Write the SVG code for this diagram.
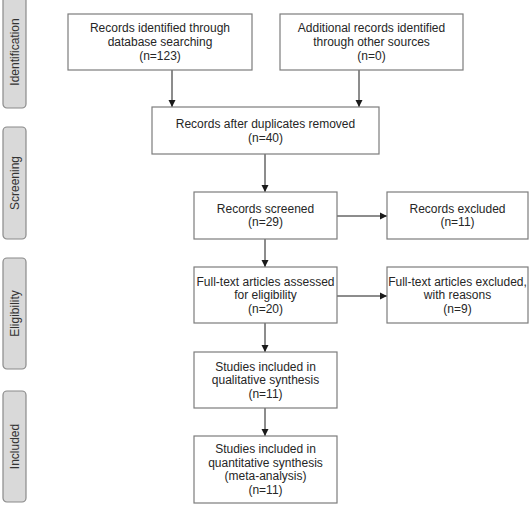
<svg xmlns="http://www.w3.org/2000/svg" width="530" height="513" viewBox="0 0 530 513">
<style>
.bg{fill:#ffffff}
.phase rect{fill:#d9d9d9;stroke:#8a8a8a;stroke-width:1.2}
.phase text{font-family:"Liberation Sans",Arial,sans-serif;font-size:12px;fill:#333;text-anchor:middle;dominant-baseline:central}
.node rect{fill:#ffffff;stroke:#7c7c7c;stroke-width:1.2}
.node text{font-family:"Liberation Sans",Arial,sans-serif;font-size:12px;fill:#262626;text-anchor:middle}
#connectors line{stroke:#1a1a1a;stroke-width:1;marker-end:url(#ah)}
</style>
<defs>
<marker id="ah" markerWidth="8" markerHeight="8" refX="7" refY="4" orient="auto" markerUnits="userSpaceOnUse">
<path d="M0,0.5 L7,4 L0,7.5 Z" fill="#1a1a1a"/>
</marker>
</defs>
<rect class="bg" x="0" y="0" width="530" height="513"/>

<g id="phase-identification" class="phase"><rect x="3" y="-5" width="23" height="113" rx="4"/><text transform="translate(14.5,52) rotate(-90)">Identification</text></g>
<g id="phase-screening" class="phase"><rect x="3" y="127" width="23" height="112" rx="4"/><text transform="translate(14.5,183) rotate(-90)">Screening</text></g>
<g id="phase-eligibility" class="phase"><rect x="3" y="258" width="23" height="111" rx="4"/><text transform="translate(14.5,313.5) rotate(-90)">Eligibility</text></g>
<g id="phase-included" class="phase"><rect x="3" y="391" width="23" height="111" rx="4"/><text transform="translate(14.5,446.5) rotate(-90)">Included</text></g>

<g id="connectors">
<line x1="172" y1="70" x2="172" y2="107"/>
<line x1="359" y1="70" x2="359" y2="107"/>
<line x1="265" y1="154" x2="265" y2="192"/>
<line x1="337" y1="216" x2="387" y2="216"/>
<line x1="265" y1="239" x2="265" y2="267"/>
<line x1="337" y1="296" x2="387" y2="296"/>
<line x1="265" y1="323" x2="265" y2="352"/>
<line x1="265" y1="408" x2="265" y2="436"/>
</g>

<g id="n-database" class="node"><rect x="68" y="14" width="184" height="56"/>
<text x="160" y="32.3">Records identified through</text><text x="160" y="46">database searching</text><text x="160" y="59.5">(n=123)</text></g>
<g id="n-other" class="node"><rect x="280" y="14" width="183" height="56"/>
<text x="371.5" y="32.3">Additional records identified</text><text x="371.5" y="46">through other sources</text><text x="371.5" y="59.5">(n=0)</text></g>
<g id="n-dup" class="node"><rect x="152" y="107" width="227" height="47"/>
<text x="265.5" y="128">Records after duplicates removed</text><text x="265.5" y="141.5">(n=40)</text></g>
<g id="n-screened" class="node"><rect x="194" y="192" width="143" height="47"/>
<text x="265.5" y="212.5">Records screened</text><text x="265.5" y="226">(n=29)</text></g>
<g id="n-excluded" class="node"><rect x="387" y="192" width="141" height="47"/>
<text x="457.5" y="212.5">Records excluded</text><text x="457.5" y="226">(n=11)</text></g>
<g id="n-fulltext" class="node"><rect x="194" y="267" width="143" height="56"/>
<text x="265.5" y="285.5">Full-text articles assessed</text><text x="265.5" y="299">for eligibility</text><text x="265.5" y="312.5">(n=20)</text></g>
<g id="n-ftexcluded" class="node"><rect x="387" y="267" width="141" height="56"/>
<text x="457.5" y="285.5">Full-text articles excluded,</text><text x="457.5" y="299">with reasons</text><text x="457.5" y="312.5">(n=9)</text></g>
<g id="n-qual" class="node"><rect x="194" y="352" width="143" height="56"/>
<text x="265.5" y="370.5">Studies included in</text><text x="265.5" y="384">qualitative synthesis</text><text x="265.5" y="397.5">(n=11)</text></g>
<g id="n-quant" class="node"><rect x="194" y="436" width="143" height="67"/>
<text x="265.5" y="453.3">Studies included in</text><text x="265.5" y="466.8">quantitative synthesis</text><text x="265.5" y="480.3">(meta-analysis)</text><text x="265.5" y="493.8">(n=11)</text></g>
</svg>
